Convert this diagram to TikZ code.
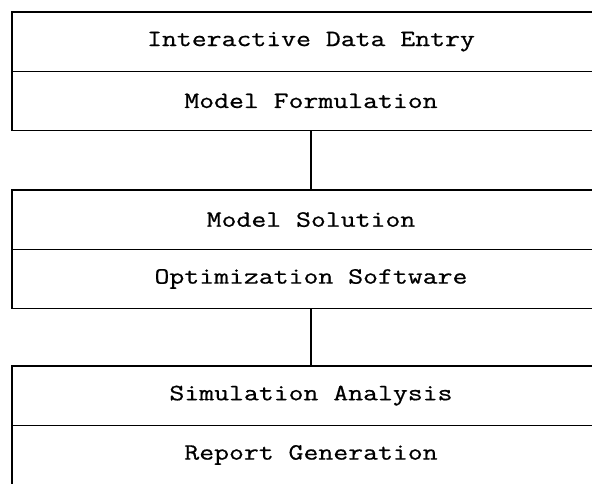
\documentclass[tikz,border=0pt]{standalone}
\usepackage{fontspec}
\setmonofont{Latin Modern Mono}[FakeStretch=1.24,FakeBold=0.7]
\usetikzlibrary{positioning}
\tikzset{
  row/.style={draw,line width=1.1pt,minimum width=448.5pt,minimum height=44.5pt,
    inner sep=0pt,outer sep=0pt,font=\fontsize{17.5}{20}\ttfamily},
  link/.style={line width=1.1pt}
}
\begin{document}
\begin{tikzpicture}[x=0.75pt,y=0.75pt]
\clip (0,0) rectangle (592,-483);
\node[row] (entry) at (311,-41.6) {Interactive Data Entry};
\node[row,below=0pt of entry] (form) {Model Formulation};
\node[row,below=44.5pt of form] (sol) {Model Solution};
\node[row,below=0pt of sol] (soft) {Optimization Software};
\node[row,below=43pt of soft] (sim) {Simulation Analysis};
\node[row,below=0pt of sim] (rep) {Report Generation};
\draw[link] (form.south) -- (sol.north);
\draw[link] (soft.south) -- (sim.north);
\end{tikzpicture}
\end{document}
